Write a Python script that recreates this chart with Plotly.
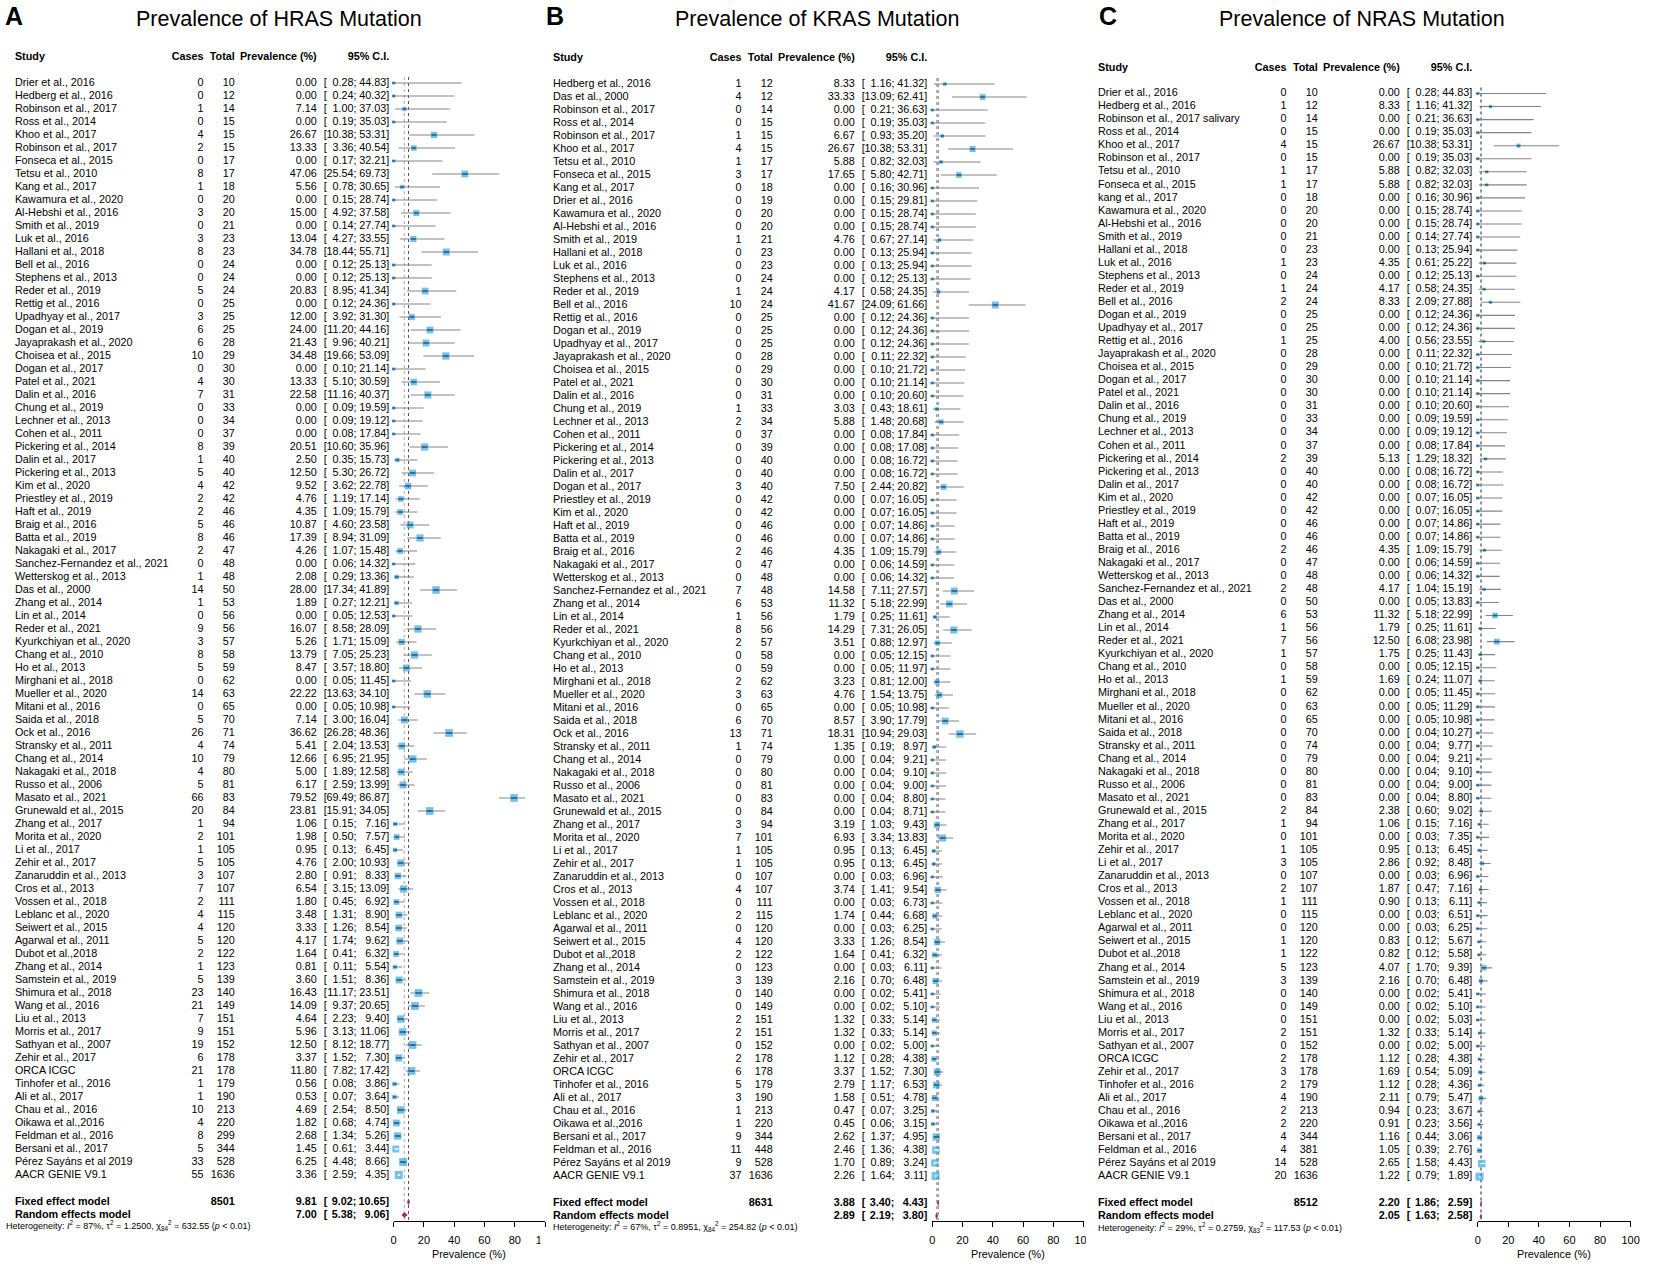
import plotly.graph_objects as go

# ---------------- A : HRAS ----------------
hras_study = ["Drier et al., 2016", "Hedberg et al., 2016", "Robinson et al., 2017", "Ross et al., 2014",
              "Khoo et al., 2017", "Robinson et al., 2017", "Fonseca et al., 2015", "Tetsu et al., 2010",
              "Kang et al., 2017", "Kawamura et al., 2020", "Al-Hebshi et al., 2016", "Smith et al., 2019",
              "Luk et al., 2016", "Hallani et al., 2018", "Bell et al., 2016", "Stephens et al., 2013",
              "Reder et al., 2019", "Rettig et al., 2016", "Upadhyay et al., 2017", "Dogan et al., 2019",
              "Jayaprakash et al., 2020", "Choisea et al., 2015", "Dogan et al., 2017", "Patel et al., 2021",
              "Dalin et al., 2016", "Chung et al., 2019", "Lechner et al., 2013", "Cohen et al., 2011",
              "Pickering et al., 2014", "Dalin et al., 2017", "Pickering et al., 2013", "Kim et al., 2020",
              "Priestley et al., 2019", "Haft et al., 2019", "Braig et al., 2016", "Batta et al., 2019",
              "Nakagaki et al., 2017", "Sanchez-Fernandez et al., 2021", "Wetterskog et al., 2013",
              "Das et al., 2000", "Zhang et al., 2014", "Lin et al., 2014", "Reder et al., 2021",
              "Kyurkchiyan et al., 2020", "Chang et al., 2010", "Ho et al., 2013", "Mirghani et al., 2018",
              "Mueller et al., 2020", "Mitani et al., 2016", "Saida et al., 2018", "Ock et al., 2016",
              "Stransky et al., 2011", "Chang et al., 2014", "Nakagaki et al., 2018", "Russo et al., 2006",
              "Masato et al., 2021", "Grunewald et al., 2015", "Zhang et al., 2017", "Morita et al., 2020",
              "Li et al., 2017", "Zehir et al., 2017", "Zanaruddin et al., 2013", "Cros et al., 2013",
              "Vossen et al., 2018", "Leblanc et al., 2020", "Seiwert et al., 2015", "Agarwal et al., 2011",
              "Dubot et al.,2018", "Zhang et al., 2014", "Samstein et al., 2019", "Shimura et al., 2018",
              "Wang et al., 2016", "Liu et al., 2013", "Morris et al., 2017", "Sathyan et al., 2007",
              "Zehir et al., 2017", "ORCA ICGC", "Tinhofer et al., 2016", "Ali et al., 2017",
              "Chau et al., 2016", "Oikawa et al.,2016", "Feldman et al., 2016", "Bersani et al., 2017",
              "Pérez Sayáns et al 2019", "AACR GENIE V9.1"]
hras_cases = [0, 0, 1, 0, 4, 2, 0, 8, 1, 0, 3, 0, 3, 8, 0, 0, 5, 0, 3, 6, 6, 10, 0, 4, 7, 0, 0, 0, 8, 1,
              5, 4, 2, 2, 5, 8, 2, 0, 1, 14, 1, 0, 9, 3, 8, 5, 0, 14, 0, 5, 26, 4, 10, 4, 5, 66, 20, 1, 2, 1,
              5, 3, 7, 2, 4, 4, 5, 2, 1, 5, 23, 21, 7, 9, 19, 6, 21, 1, 1, 10, 4, 8, 5, 33, 55]
hras_total = [10, 12, 14, 15, 15, 15, 17, 17, 18, 20, 20, 21, 23, 23, 24, 24, 24, 25, 25, 25,
              28, 29, 30, 30, 31, 33, 34, 37, 39, 40, 40, 42, 42, 46, 46, 46, 47, 48, 48, 50,
              53, 56, 56, 57, 58, 59, 62, 63, 65, 70, 71, 74, 79, 80, 81, 83, 84, 94, 101, 105,
              105, 107, 107, 111, 115, 120, 120, 122, 123, 139, 140, 149, 151, 151, 152, 178, 178, 179, 190, 213,
              220, 299, 344, 528, 1636]
hras_prev = [0.00, 0.00, 7.14, 0.00, 26.67, 13.33, 0.00, 47.06, 5.56, 0.00,
             15.00, 0.00, 13.04, 34.78, 0.00, 0.00, 20.83, 0.00, 12.00, 24.00,
             21.43, 34.48, 0.00, 13.33, 22.58, 0.00, 0.00, 0.00, 20.51, 2.50,
             12.50, 9.52, 4.76, 4.35, 10.87, 17.39, 4.26, 0.00, 2.08, 28.00,
             1.89, 0.00, 16.07, 5.26, 13.79, 8.47, 0.00, 22.22, 0.00, 7.14,
             36.62, 5.41, 12.66, 5.00, 6.17, 79.52, 23.81, 1.06, 1.98, 0.95,
             4.76, 2.80, 6.54, 1.80, 3.48, 3.33, 4.17, 1.64, 0.81, 3.60,
             16.43, 14.09, 4.64, 5.96, 12.50, 3.37, 11.80, 0.56, 0.53, 4.69,
             1.82, 2.68, 1.45, 6.25, 3.36]
hras_lo = [0.28, 0.24, 1.00, 0.19, 10.38, 3.36, 0.17, 25.54, 0.78, 0.15,
           4.92, 0.14, 4.27, 18.44, 0.12, 0.12, 8.95, 0.12, 3.92, 11.20,
           9.96, 19.66, 0.10, 5.10, 11.16, 0.09, 0.09, 0.08, 10.60, 0.35,
           5.30, 3.62, 1.19, 1.09, 4.60, 8.94, 1.07, 0.06, 0.29, 17.34,
           0.27, 0.05, 8.58, 1.71, 7.05, 3.57, 0.05, 13.63, 0.05, 3.00,
           26.28, 2.04, 6.95, 1.89, 2.59, 69.49, 15.91, 0.15, 0.50, 0.13,
           2.00, 0.91, 3.15, 0.45, 1.31, 1.26, 1.74, 0.41, 0.11, 1.51,
           11.17, 9.37, 2.23, 3.13, 8.12, 1.52, 7.82, 0.08, 0.07, 2.54,
           0.68, 1.34, 0.61, 4.48, 2.59]
hras_hi = [44.83, 40.32, 37.03, 35.03, 53.31, 40.54, 32.21, 69.73, 30.65, 28.74,
           37.58, 27.74, 33.55, 55.71, 25.13, 25.13, 41.34, 24.36, 31.30, 44.16,
           40.21, 53.09, 21.14, 30.59, 40.37, 19.59, 19.12, 17.84, 35.96, 15.73,
           26.72, 22.78, 17.14, 15.79, 23.58, 31.09, 15.48, 14.32, 13.36, 41.89,
           12.21, 12.53, 28.09, 15.09, 25.23, 18.80, 11.45, 34.10, 10.98, 16.04,
           48.36, 13.53, 21.95, 12.58, 13.99, 86.87, 34.05, 7.16, 7.57, 6.45,
           10.93, 8.33, 13.09, 6.92, 8.90, 8.54, 9.62, 6.32, 5.54, 8.36,
           23.51, 20.65, 9.40, 11.06, 18.77, 7.30, 17.42, 3.86, 3.64, 8.50,
           4.74, 5.26, 3.44, 8.66, 4.35]
hras_fixed = [9.81, 9.02, 10.65]
hras_random = [7.00, 5.38, 9.06]
hras_n = 8501
hras_het = [87, 1.2500, 84, 632.55]

# ---------------- B : KRAS ----------------
kras_study = ["Hedberg et al., 2016", "Das et al., 2000", "Robinson et al., 2017", "Ross et al., 2014",
              "Robinson et al., 2017", "Khoo et al., 2017", "Tetsu et al., 2010", "Fonseca et al., 2015",
              "Kang et al., 2017", "Drier et al., 2016", "Kawamura et al., 2020", "Al-Hebshi et al., 2016",
              "Smith et al., 2019", "Hallani et al., 2018", "Luk et al., 2016", "Stephens et al., 2013",
              "Reder et al., 2019", "Bell et al., 2016", "Rettig et al., 2016", "Dogan et al., 2019",
              "Upadhyay et al., 2017", "Jayaprakash et al., 2020", "Choisea et al., 2015", "Patel et al., 2021",
              "Dalin et al., 2016", "Chung et al., 2019", "Lechner et al., 2013", "Cohen et al., 2011",
              "Pickering et al., 2014", "Pickering et al., 2013", "Dalin et al., 2017", "Dogan et al., 2017",
              "Priestley et al., 2019", "Kim et al., 2020", "Haft et al., 2019", "Batta et al., 2019",
              "Braig et al., 2016", "Nakagaki et al., 2017", "Wetterskog et al., 2013",
              "Sanchez-Fernandez et al., 2021", "Zhang et al., 2014", "Lin et al., 2014", "Reder et al., 2021",
              "Kyurkchiyan et al., 2020", "Chang et al., 2010", "Ho et al., 2013", "Mirghani et al., 2018",
              "Mueller et al., 2020", "Mitani et al., 2016", "Saida et al., 2018", "Ock et al., 2016",
              "Stransky et al., 2011", "Chang et al., 2014", "Nakagaki et al., 2018", "Russo et al., 2006",
              "Masato et al., 2021", "Grunewald et al., 2015", "Zhang et al., 2017", "Morita et al., 2020",
              "Li et al., 2017", "Zehir et al., 2017", "Zanaruddin et al., 2013", "Cros et al., 2013",
              "Vossen et al., 2018", "Leblanc et al., 2020", "Agarwal et al., 2011", "Seiwert et al., 2015",
              "Dubot et al.,2018", "Zhang et al., 2014", "Samstein et al., 2019", "Shimura et al., 2018",
              "Wang et al., 2016", "Liu et al., 2013", "Morris et al., 2017", "Sathyan et al., 2007",
              "Zehir et al., 2017", "ORCA ICGC", "Tinhofer et al., 2016", "Ali et al., 2017",
              "Chau et al., 2016", "Oikawa et al.,2016", "Bersani et al., 2017", "Feldman et al., 2016",
              "Pérez Sayáns et al 2019", "AACR GENIE V9.1"]
kras_cases = [1, 4, 0, 0, 1, 4, 1, 3, 0, 0, 0, 0, 1, 0, 0, 0, 1, 10, 0, 0,
              0, 0, 0, 0, 0, 1, 2, 0, 0, 0, 0, 3, 0, 0, 0, 0, 2, 0, 0, 7,
              6, 1, 8, 2, 0, 0, 2, 3, 0, 6, 13, 1, 0, 0, 0, 0, 0, 3, 7, 1,
              1, 0, 4, 0, 2, 0, 4, 2, 0, 3, 0, 0, 2, 2, 0, 2, 6, 5, 3, 1,
              1, 9, 11, 9, 37]
kras_total = [12, 12, 14, 15, 15, 15, 17, 17, 18, 19, 20, 20, 21, 23, 23, 24, 24, 24, 25, 25,
              25, 28, 29, 30, 31, 33, 34, 37, 39, 40, 40, 40, 42, 42, 46, 46, 46, 47, 48, 48,
              53, 56, 56, 57, 58, 59, 62, 63, 65, 70, 71, 74, 79, 80, 81, 83, 84, 94, 101, 105,
              105, 107, 107, 111, 115, 120, 120, 122, 123, 139, 140, 149, 151, 151, 152, 178, 178, 179, 190, 213,
              220, 344, 448, 528, 1636]
kras_prev = [8.33, 33.33, 0.00, 0.00, 6.67, 26.67, 5.88, 17.65, 0.00, 0.00,
             0.00, 0.00, 4.76, 0.00, 0.00, 0.00, 4.17, 41.67, 0.00, 0.00,
             0.00, 0.00, 0.00, 0.00, 0.00, 3.03, 5.88, 0.00, 0.00, 0.00,
             0.00, 7.50, 0.00, 0.00, 0.00, 0.00, 4.35, 0.00, 0.00, 14.58,
             11.32, 1.79, 14.29, 3.51, 0.00, 0.00, 3.23, 4.76, 0.00, 8.57,
             18.31, 1.35, 0.00, 0.00, 0.00, 0.00, 0.00, 3.19, 6.93, 0.95,
             0.95, 0.00, 3.74, 0.00, 1.74, 0.00, 3.33, 1.64, 0.00, 2.16,
             0.00, 0.00, 1.32, 1.32, 0.00, 1.12, 3.37, 2.79, 1.58, 0.47,
             0.45, 2.62, 2.46, 1.70, 2.26]
kras_lo = [1.16, 13.09, 0.21, 0.19, 0.93, 10.38, 0.82, 5.80, 0.16, 0.15,
           0.15, 0.15, 0.67, 0.13, 0.13, 0.12, 0.58, 24.09, 0.12, 0.12,
           0.12, 0.11, 0.10, 0.10, 0.10, 0.43, 1.48, 0.08, 0.08, 0.08,
           0.08, 2.44, 0.07, 0.07, 0.07, 0.07, 1.09, 0.06, 0.06, 7.11,
           5.18, 0.25, 7.31, 0.88, 0.05, 0.05, 0.81, 1.54, 0.05, 3.90,
           10.94, 0.19, 0.04, 0.04, 0.04, 0.04, 0.04, 1.03, 3.34, 0.13,
           0.13, 0.03, 1.41, 0.03, 0.44, 0.03, 1.26, 0.41, 0.03, 0.70,
           0.02, 0.02, 0.33, 0.33, 0.02, 0.28, 1.52, 1.17, 0.51, 0.07,
           0.06, 1.37, 1.36, 0.89, 1.64]
kras_hi = [41.32, 62.41, 36.63, 35.03, 35.20, 53.31, 32.03, 42.71, 30.96, 29.81,
           28.74, 28.74, 27.14, 25.94, 25.94, 25.13, 24.35, 61.66, 24.36, 24.36,
           24.36, 22.32, 21.72, 21.14, 20.60, 18.61, 20.68, 17.84, 17.08, 16.72,
           16.72, 20.82, 16.05, 16.05, 14.86, 14.86, 15.79, 14.59, 14.32, 27.57,
           22.99, 11.61, 26.05, 12.97, 12.15, 11.97, 12.00, 13.75, 10.98, 17.79,
           29.03, 8.97, 9.21, 9.10, 9.00, 8.80, 8.71, 9.43, 13.83, 6.45,
           6.45, 6.96, 9.54, 6.73, 6.68, 6.25, 8.54, 6.32, 6.11, 6.48,
           5.41, 5.10, 5.14, 5.14, 5.00, 4.38, 7.30, 6.53, 4.78, 3.25,
           3.15, 4.95, 4.38, 3.24, 3.11]
kras_fixed = [3.88, 3.40, 4.43]
kras_random = [2.89, 2.19, 3.80]
kras_n = 8631
kras_het = [67, 0.8951, 84, 254.82]

# ---------------- C : NRAS ----------------
nras_study = ["Drier et al., 2016", "Hedberg et al., 2016", "Robinson et al., 2017 salivary", "Ross et al., 2014",
              "Khoo et al., 2017", "Robinson et al., 2017", "Tetsu et al., 2010", "Fonseca et al., 2015",
              "kang et al., 2017", "Kawamura et al., 2020", "Al-Hebshi et al., 2016", "Smith et al., 2019",
              "Hallani et al., 2018", "Luk et al., 2016", "Stephens et al., 2013", "Reder et al., 2019",
              "Bell et al., 2016", "Dogan et al., 2019", "Upadhyay et al., 2017", "Rettig et al., 2016",
              "Jayaprakash et al., 2020", "Choisea et al., 2015", "Dogan et al., 2017", "Patel et al., 2021",
              "Dalin et al., 2016", "Chung et al., 2019", "Lechner et al., 2013", "Cohen et al., 2011",
              "Pickering et al., 2014", "Pickering et al., 2013", "Dalin et al., 2017", "Kim et al., 2020",
              "Priestley et al., 2019", "Haft et al., 2019", "Batta et al., 2019", "Braig et al., 2016",
              "Nakagaki et al., 2017", "Wetterskog et al., 2013", "Sanchez-Fernandez et al., 2021",
              "Das et al., 2000", "Zhang et al., 2014", "Lin et al., 2014", "Reder et al., 2021",
              "Kyurkchiyan et al., 2020", "Chang et al., 2010", "Ho et al., 2013", "Mirghani et al., 2018",
              "Mueller et al., 2020", "Mitani et al., 2016", "Saida et al., 2018", "Stransky et al., 2011",
              "Chang et al., 2014", "Nakagaki et al., 2018", "Russo et al., 2006", "Masato et al., 2021",
              "Grunewald et al., 2015", "Zhang et al., 2017", "Morita et al., 2020", "Zehir et al., 2017",
              "Li et al., 2017", "Zanaruddin et al., 2013", "Cros et al., 2013", "Vossen et al., 2018",
              "Leblanc et al., 2020", "Agarwal et al., 2011", "Seiwert et al., 2015", "Dubot et al.,2018",
              "Zhang et al., 2014", "Samstein et al., 2019", "Shimura et al., 2018", "Wang et al., 2016",
              "Liu et al., 2013", "Morris et al., 2017", "Sathyan et al., 2007", "ORCA ICGC",
              "Zehir et al., 2017", "Tinhofer et al., 2016", "Ali et al., 2017", "Chau et al., 2016",
              "Oikawa et al.,2016", "Bersani et al., 2017", "Feldman et al., 2016", "Pérez Sayáns et al 2019",
              "AACR GENIE V9.1"]
nras_cases = [0, 1, 0, 0, 4, 0, 1, 1, 0, 0, 0, 0, 0, 1, 0, 1, 2, 0, 0, 1,
              0, 0, 0, 0, 0, 0, 0, 0, 2, 0, 0, 0, 0, 0, 0, 2, 0, 0, 2, 0,
              6, 1, 7, 1, 0, 1, 0, 0, 0, 0, 0, 0, 0, 0, 0, 2, 1, 0, 1, 3,
              0, 2, 1, 0, 0, 1, 1, 5, 3, 0, 0, 0, 2, 0, 2, 3, 2, 4, 2, 2,
              4, 4, 14, 20]
nras_total = [10, 12, 14, 15, 15, 15, 17, 17, 18, 20, 20, 21, 23, 23, 24, 24, 24, 25, 25, 25,
              28, 29, 30, 30, 31, 33, 34, 37, 39, 40, 40, 42, 42, 46, 46, 46, 47, 48, 48, 50,
              53, 56, 56, 57, 58, 59, 62, 63, 65, 70, 74, 79, 80, 81, 83, 84, 94, 101, 105, 105,
              107, 107, 111, 115, 120, 120, 122, 123, 139, 140, 149, 151, 151, 152, 178, 178, 179, 190, 213, 220,
              344, 381, 528, 1636]
nras_prev = [0.00, 8.33, 0.00, 0.00, 26.67, 0.00, 5.88, 5.88, 0.00, 0.00,
             0.00, 0.00, 0.00, 4.35, 0.00, 4.17, 8.33, 0.00, 0.00, 4.00,
             0.00, 0.00, 0.00, 0.00, 0.00, 0.00, 0.00, 0.00, 5.13, 0.00,
             0.00, 0.00, 0.00, 0.00, 0.00, 4.35, 0.00, 0.00, 4.17, 0.00,
             11.32, 1.79, 12.50, 1.75, 0.00, 1.69, 0.00, 0.00, 0.00, 0.00,
             0.00, 0.00, 0.00, 0.00, 0.00, 2.38, 1.06, 0.00, 0.95, 2.86,
             0.00, 1.87, 0.90, 0.00, 0.00, 0.83, 0.82, 4.07, 2.16, 0.00,
             0.00, 0.00, 1.32, 0.00, 1.12, 1.69, 1.12, 2.11, 0.94, 0.91,
             1.16, 1.05, 2.65, 1.22]
nras_lo = [0.28, 1.16, 0.21, 0.19, 10.38, 0.19, 0.82, 0.82, 0.16, 0.15,
           0.15, 0.14, 0.13, 0.61, 0.12, 0.58, 2.09, 0.12, 0.12, 0.56,
           0.11, 0.10, 0.10, 0.10, 0.10, 0.09, 0.09, 0.08, 1.29, 0.08,
           0.08, 0.07, 0.07, 0.07, 0.07, 1.09, 0.06, 0.06, 1.04, 0.05,
           5.18, 0.25, 6.08, 0.25, 0.05, 0.24, 0.05, 0.05, 0.05, 0.04,
           0.04, 0.04, 0.04, 0.04, 0.04, 0.60, 0.15, 0.03, 0.13, 0.92,
           0.03, 0.47, 0.13, 0.03, 0.03, 0.12, 0.12, 1.70, 0.70, 0.02,
           0.02, 0.02, 0.33, 0.02, 0.28, 0.54, 0.28, 0.79, 0.23, 0.23,
           0.44, 0.39, 1.58, 0.79]
nras_hi = [44.83, 41.32, 36.63, 35.03, 53.31, 35.03, 32.03, 32.03, 30.96, 28.74,
           28.74, 27.74, 25.94, 25.22, 25.13, 24.35, 27.88, 24.36, 24.36, 23.55,
           22.32, 21.72, 21.14, 21.14, 20.60, 19.59, 19.12, 17.84, 18.32, 16.72,
           16.72, 16.05, 16.05, 14.86, 14.86, 15.79, 14.59, 14.32, 15.19, 13.83,
           22.99, 11.61, 23.98, 11.43, 12.15, 11.07, 11.45, 11.29, 10.98, 10.27,
           9.77, 9.21, 9.10, 9.00, 8.80, 9.02, 7.16, 7.35, 6.45, 8.48,
           6.96, 7.16, 6.11, 6.51, 6.25, 5.67, 5.58, 9.39, 6.48, 5.41,
           5.10, 5.03, 5.14, 5.00, 4.38, 5.09, 4.36, 5.47, 3.67, 3.56,
           3.06, 2.76, 4.43, 1.89]
nras_fixed = [2.20, 1.86, 2.59]
nras_random = [2.05, 1.63, 2.58]
nras_n = 8512
nras_het = [29, 0.2759, 83, 117.53]

W, H = 1654, 1265
FONT = "Liberation Sans, Arial, Helvetica, sans-serif"
BOX = "#3aa6dd"
DOT = "#1c3a66"
CI_GREY = "#858585"
DIAMOND = "#9d2c5b"
AXIS_Y = 1221

panels = [
    dict(letter="A", gene="HRAS", off=0, letter_x=11, first=83.0, step=13.0, px0=393.5, px1=546.0, het_x=3,
         study=hras_study, cases=hras_cases, total=hras_total, prev=hras_prev, lo=hras_lo, hi=hras_hi,
         fixed=hras_fixed, random=hras_random, n=hras_n, het=hras_het),
    dict(letter="B", gene="KRAS", off=542, letter_x=556, first=84.0, step=13.0, px0=936.0, px1=1088.5, het_x=12,
         study=kras_study, cases=kras_cases, total=kras_total, prev=kras_prev, lo=kras_lo, hi=kras_hi,
         fixed=kras_fixed, random=kras_random, n=kras_n, het=kras_het),
    dict(letter="C", gene="NRAS", off=1091, letter_x=1113, first=93.5, step=13.05, px0=1485.5, px1=1639.5, het_x=12,
         study=nras_study, cases=nras_cases, total=nras_total, prev=nras_prev, lo=nras_lo, hi=nras_hi,
         fixed=nras_fixed, random=nras_random, n=nras_n, het=nras_het),
]

fig = go.Figure()


def text_col(x, ys, texts, pos, size=10.8):
    fig.add_trace(go.Scatter(
        x=[x] * len(texts), y=ys, text=texts, mode="text", textposition=pos,
        textfont=dict(family=FONT, size=size, color="black"),
        hoverinfo="skip", showlegend=False, cliponaxis=False, xaxis="x", yaxis="y"))


annotations = []
axes = {}
for k, p in enumerate(panels):
    off = p["off"]
    nst = len(p["study"])
    rows = [p["first"] + p["step"] * i for i in range(nst)]
    y_head = p["first"] - 25.5
    y_fix = rows[-1] + 27
    y_ran = rows[-1] + 40
    y_het = rows[-1] + 52
    fx, rd = p["fixed"], p["random"]

    # ---- table ----
    text_col(off + 12, [y_head] + rows + [y_fix, y_ran],
             ["<b>Study</b>"] + p["study"] + ["<b>Fixed effect model</b>", "<b>Random effects model</b>"],
             "middle right")
    text_col(off + 202, [y_head] + rows, ["<b>Cases</b>"] + [str(c) for c in p["cases"]], "middle left")
    text_col(off + 233.5, [y_head] + rows + [y_fix],
             ["<b>Total</b>"] + [str(t) for t in p["total"]] + [f"<b>{p['n']}</b>"], "middle left")
    text_col(off + 316, [y_head] + rows + [y_fix, y_ran],
             ["<b>Prevalence (%)</b>"] + [f"{v:.2f}" for v in p["prev"]]
             + [f"<b>{fx[0]:.2f}</b>", f"<b>{rd[0]:.2f}</b>"], "middle left")
    text_col(off + 389, [y_head], ["<b>95% C.I.</b>"], "middle left")
    text_col(off + 323, rows + [y_fix, y_ran], ["["] * nst + ["<b>[</b>", "<b>[</b>"], "middle right")
    text_col(off + 356, rows + [y_fix, y_ran],
             [f"{v:.2f};" for v in p["lo"]] + [f"<b>{fx[1]:.2f};</b>", f"<b>{rd[1]:.2f};</b>"], "middle left")
    text_col(off + 389, rows + [y_fix, y_ran],
             [f"{v:.2f}]" for v in p["hi"]] + [f"<b>{fx[2]:.2f}]</b>", f"<b>{rd[2]:.2f}]</b>"], "middle left")
    i2, tau2, df, q = p["het"]
    het_txt = (f"Heterogeneity: <i>I</i><sup>2</sup> = {i2}%, τ<sup>2</sup> = {tau2:.4f}, "
               f"χ<sub>{df}</sub><sup>2</sup> = {q:.2f} (<i>p</i> &lt; 0.01)")
    text_col(off + p["het_x"], [y_het], [het_txt], "middle right", size=9)

    # ---- forest ----
    xa = f"x{k + 2}"
    ppu = (p["px1"] - p["px0"]) / 100.0
    for val, colr in ((rd[0], "#a9a9a9"), (fx[0], "#555555")):
        fig.add_trace(go.Scatter(x=[val, val], y=[p["first"] - 6, AXIS_Y - 1], mode="lines",
                                 line=dict(color=colr, width=1, dash="dot"),
                                 hoverinfo="skip", showlegend=False, xaxis=xa, yaxis="y"))
    ci_x, ci_y = [], []
    for lo, hi, y in zip(p["lo"], p["hi"], rows):
        ci_x += [lo, hi, None]
        ci_y += [y, y, None]
    fig.add_trace(go.Scatter(x=ci_x, y=ci_y, mode="lines", line=dict(color=CI_GREY, width=1.1),
                             hoverinfo="skip", showlegend=False, xaxis=xa, yaxis="y"))

    # box sizes from random-effects weights (logit scale)
    w = []
    for e, nn in zip(p["cases"], p["total"]):
        v = 1 / (e + 0.5) + 1 / (nn - e + 0.5) if e == 0 else 1 / e + 1 / (nn - e)
        w.append(1 / (v + tau2))
    wmax = max(w)
    sizes = [max(3.2, 8.0 * wi / wmax) for wi in w]
    fig.add_trace(go.Scatter(x=p["prev"], y=rows, mode="markers",
                             marker=dict(symbol="square", size=sizes, color=BOX, line=dict(width=0)),
                             hoverinfo="skip", showlegend=False, cliponaxis=False, xaxis=xa, yaxis="y"))
    wx, wy, dx, dy, ds = [], [], [], [], []
    for lo, hi, pv, y, s in zip(p["lo"], p["hi"], p["prev"], rows, sizes):
        if (hi - lo) * ppu < 0.62 * s:
            wx += [lo, hi, None]
            wy += [y, y, None]
        else:
            dx.append(pv)
            dy.append(y)
            ds.append(max(2.2, 0.55 * s))
    fig.add_trace(go.Scatter(x=wx, y=wy, mode="lines", line=dict(color="white", width=1.5),
                             hoverinfo="skip", showlegend=False, xaxis=xa, yaxis="y"))
    fig.add_trace(go.Scatter(x=dx, y=dy, mode="markers",
                             marker=dict(symbol="line-ew", size=ds, color=DOT, line=dict(width=1.6, color=DOT)),
                             hoverinfo="skip", showlegend=False, cliponaxis=False, xaxis=xa, yaxis="y"))
    for est, y in ((fx, y_fix), (rd, y_ran)):
        fig.add_trace(go.Scatter(x=[est[1], est[0], est[2], est[0], est[1]],
                                 y=[y, y - 2.6, y, y + 2.6, y], mode="lines", fill="toself",
                                 fillcolor=DIAMOND, line=dict(color=DIAMOND, width=0.6),
                                 hoverinfo="skip", showlegend=False, xaxis=xa, yaxis="y"))

    axes[f"xaxis{k + 2}"] = dict(
        domain=[p["px0"] / W, p["px1"] / W], range=[0, 100], anchor="free", position=1 - AXIS_Y / H,
        tickvals=[0, 20, 40, 60, 80, 100], ticks="outside", ticklen=5, tickwidth=1, tickcolor="black",
        showline=True, linecolor="black", linewidth=1, showgrid=False, zeroline=False,
        tickfont=dict(family=FONT, size=11, color="black"), ticklabelstandoff=4, fixedrange=True)

    annotations += [
        dict(x=p["letter_x"], y=16, text=f"<b>{p['letter']}</b>", showarrow=False,
             font=dict(family=FONT, size=25, color="black")),
        dict(x=off + 278, y=19, text=f"Prevalence of {p['gene']} Mutation", showarrow=False,
             font=dict(family=FONT, size=21.5, color="black")),
        dict(x=(p["px0"] + p["px1"]) / 2, y=1254, text="Prevalence (%)", showarrow=False,
             font=dict(family=FONT, size=10.8, color="black")),
    ]

for a in annotations:
    a.update(xref="x", yref="y", xanchor="center", yanchor="middle")

# panels were pasted side by side: the right neighbour hides the end of the "100" labels
shapes = [
    dict(type="rect", xref="x", yref="y", x0=541.5, x1=560, y0=1233, y1=H, fillcolor="white",
         line=dict(width=0), layer="above"),
    dict(type="rect", xref="x", yref="y", x0=1091, x1=1101, y0=1233, y1=H, fillcolor="white",
         line=dict(width=0), layer="above"),
]

fig.update_layout(
    width=W, height=H, margin=dict(l=0, r=0, t=0, b=0, pad=0),
    paper_bgcolor="white", plot_bgcolor="rgba(0,0,0,0)", showlegend=False,
    xaxis=dict(domain=[0, 1], range=[0, W], visible=False, fixedrange=True),
    yaxis=dict(domain=[0, 1], range=[H, 0], visible=False, fixedrange=True),
    annotations=annotations, shapes=shapes, **axes)

fig.write_html("out.html", config={"displayModeBar": False},
               post_script="document.body.style.margin='0';")
